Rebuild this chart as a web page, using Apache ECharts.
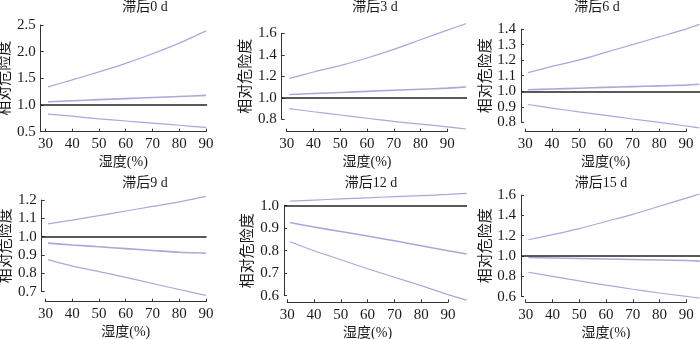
<!DOCTYPE html>
<html>
<head>
<meta charset="utf-8">
<script src="https://cdn.jsdelivr.net/npm/echarts@6/dist/echarts.min.js"></script>
<style>
html,body{margin:0;padding:0;background:#fff;}
#chart{width:700px;height:339px;}
</style>
</head>
<body>
<div id="chart"></div>
<script>
// ---------------- data ----------------
const panelTitles = ['滞后0 d', '滞后3 d', '滞后6 d', '滞后9 d', '滞后12 d', '滞后15 d'];
const xAxisName = '湿度(%)';
const yAxisName = '相对危险度';
const xTickValues = [30, 40, 50, 60, 70, 80, 90];

const yTickMin  = [0.5, 0.8, 0.8, 0.7, 0.6, 0.6];
const yTickMax  = [2.5, 1.6, 1.4, 1.2, 1.0, 1.6];
const yTickStep = [0.5, 0.2, 0.1, 0.1, 0.1, 0.2];

const humidity0 = [31, 40, 50, 60, 70, 80, 90];
const upper0 = [1.34, 1.47, 1.62, 1.78, 1.96, 2.16, 2.39];
const rr0    = [1.06, 1.08, 1.10, 1.12, 1.14, 1.16, 1.18];
const lower0 = [0.83, 0.79, 0.74, 0.70, 0.66, 0.62, 0.58];

const humidity3 = [31, 40, 50, 60, 70, 80, 90, 97];
const upper3 = [1.18, 1.24, 1.30, 1.37, 1.45, 1.54, 1.63, 1.69];
const rr3    = [1.03, 1.04, 1.05, 1.06, 1.07, 1.08, 1.09, 1.10];
const lower3 = [0.90, 0.87, 0.84, 0.81, 0.78, 0.755, 0.73, 0.71];

const humidity6 = [31, 40, 50, 60, 70, 80, 90, 95];
const upper6 = [1.12, 1.16, 1.20, 1.25, 1.30, 1.35, 1.40, 1.43];
const rr6    = [1.01, 1.015, 1.02, 1.025, 1.03, 1.035, 1.04, 1.045];
const lower6 = [0.915, 0.892, 0.868, 0.845, 0.822, 0.80, 0.777, 0.765];

const humidity9 = [31, 40, 50, 60, 70, 80, 90];
const upper9 = [1.07, 1.09, 1.115, 1.14, 1.165, 1.19, 1.22];
const rr9    = [0.965, 0.955, 0.945, 0.935, 0.925, 0.915, 0.91];
const lower9 = [0.875, 0.84, 0.81, 0.778, 0.745, 0.712, 0.68];

const humidity12 = [31, 40, 50, 60, 70, 80, 90, 97];
const upper12 = [1.02, 1.025, 1.03, 1.035, 1.04, 1.045, 1.05, 1.055];
const rr12    = [0.925, 0.905, 0.885, 0.865, 0.844, 0.822, 0.80, 0.785];
const lower12 = [0.84, 0.80, 0.76, 0.72, 0.682, 0.645, 0.605, 0.58];

const humidity15 = [31, 40, 50, 60, 70, 80, 90, 95];
const upper15 = [1.16, 1.21, 1.27, 1.34, 1.41, 1.49, 1.57, 1.61];
const rr15    = [0.985, 0.98, 0.975, 0.97, 0.965, 0.96, 0.955, 0.95];
const lower15 = [0.84, 0.80, 0.755, 0.713, 0.673, 0.636, 0.602, 0.585];

const refValue = 1.0;

// ---------------- layout (pixels) ----------------
const XS = 2.677; // px per humidity unit
const layout = [
  {x30: 45.4,  yAxisX: 40.7, right: 207.1, y1: 105,   ys: 53.35, dataY: [0.5, 2.5],  xAxisY: 131.7, L: true,  title: [145, 0],   nameGap: 23},
  {x30: 286.7, yAxisX: 281.7, right: 467,  y1: 97.8,  ys: 107.5, dataY: [0.65, 1.75], xAxisY: 131.7, L: false, title: [375, 0],   nameGap: 26},
  {x30: 525.3, yAxisX: 521,  right: 700,   y1: 91.3,  ys: 155.5, dataY: [0.7, 1.5],  xAxisY: 131.7, L: false, title: [597, 0],   nameGap: 27.5},
  {x30: 45.4,  yAxisX: 41.7, right: 206.6, y1: 236.7, ys: 183.4, dataY: [0.65, 1.25], xAxisY: 301.7, L: false, title: [145, 176], nameGap: 24},
  {x30: 287.3, yAxisX: 284,  right: 467,   y1: 205.7, ys: 225,   dataY: [0.55, 1.1], xAxisY: 302.3, L: false, title: [371, 176], nameGap: 28},
  {x30: 525.7, yAxisX: 521,  right: 700,   y1: 256,   ys: 101.6, dataY: [0.5, 1.7],  xAxisY: 302.3, L: false, title: [601, 176], nameGap: 26}
];

const panels = [
  [humidity0, upper0, rr0, lower0],
  [humidity3, upper3, rr3, lower3],
  [humidity6, upper6, rr6, lower6],
  [humidity9, upper9, rr9, lower9],
  [humidity12, upper12, rr12, lower12],
  [humidity15, upper15, rr15, lower15]
];

const FONT = "Liberation Serif, Noto Sans CJK SC";
const TXT = '#1a1a1a';
const AX = '#333';
const PURPLE = '#b0a4dc';

const grid = [], xAxis = [], yAxis = [], series = [], title = [];

function zip(xs, ys) { return xs.map((x, i) => [x, ys[i]]); }

layout.forEach((L, p) => {
  const xmin = 30 + (L.yAxisX - L.x30) / XS;
  const xmax = 30 + (L.right - L.x30) / XS;
  // data grid
  const gData = grid.length;
  grid.push({left: L.yAxisX, top: L.y1 - (L.dataY[1] - 1) * L.ys,
             width: L.right - L.yAxisX, height: (L.dataY[1] - L.dataY[0]) * L.ys,
             containLabel: false, outerBoundsMode: 'none'});
  xAxis.push({gridIndex: gData, type: 'value', min: xmin, max: xmax, show: false});
  yAxis.push({gridIndex: gData, type: 'value', min: L.dataY[0], max: L.dataY[1], show: false});

  // x-axis grid
  const gx = grid.length;
  const axStart = L.L ? L.yAxisX : L.x30;
  const axStartVal = L.L ? xmin : 30;
  const axEnd = L.x30 + 60 * XS;
  grid.push({left: axStart, top: L.xAxisY - 10, width: axEnd - axStart, height: 10,
             containLabel: false, outerBoundsMode: 'none'});
  xAxis.push({gridIndex: gx, type: 'value', position: 'bottom', min: axStartVal, max: 90,
    axisLine: {show: true, lineStyle: {color: AX, width: 1}},
    axisTick: {show: true, inside: true, length: 3, lineStyle: {color: AX}, customValues: xTickValues},
    axisLabel: {show: true, customValues: xTickValues, color: TXT, fontFamily: FONT, fontSize: 15, margin: 5},
    splitLine: {show: false},
    name: xAxisName, nameLocation: 'middle', nameGap: 24,
    nameTextStyle: {color: TXT, fontFamily: FONT, fontSize: 14}});
  yAxis.push({gridIndex: gx, type: 'value', min: 0, max: 1, show: false});

  // y-axis grid
  const gy = grid.length;
  const tTop = L.y1 - (yTickMax[p] - 1) * L.ys;
  const tBot = L.y1 - (yTickMin[p] - 1) * L.ys;
  grid.push({left: L.yAxisX, top: tTop, width: 10, height: tBot - tTop,
             containLabel: false, outerBoundsMode: 'none'});
  xAxis.push({gridIndex: gy, type: 'value', min: 0, max: 1, show: false});
  yAxis.push({gridIndex: gy, type: 'value', position: 'left',
    min: yTickMin[p], max: yTickMax[p], interval: yTickStep[p],
    axisLine: {show: true, lineStyle: {color: AX, width: 1}},
    axisTick: {show: true, inside: true, length: 3, lineStyle: {color: AX}},
    axisLabel: {color: TXT, fontFamily: FONT, fontSize: 15, margin: 5,
                formatter: v => v.toFixed(1)},
    splitLine: {show: false},
    name: yAxisName, nameLocation: 'middle', nameGap: L.nameGap,
    nameTextStyle: {color: TXT, fontFamily: FONT, fontSize: 15}});

  const [hx, up, rr, lo] = panels[p];
  const base = {type: 'line', xAxisIndex: gData, yAxisIndex: gData, showSymbol: false,
                smooth: 0.2, silent: true, animation: false};
  series.push(Object.assign({}, base, {data: zip(hx, up), lineStyle: {color: PURPLE, width: 1.2}}));
  series.push(Object.assign({}, base, {data: zip(hx, lo), lineStyle: {color: PURPLE, width: 1.2}}));
  series.push(Object.assign({}, base, {data: zip(hx, rr), lineStyle: {color: PURPLE, width: 1.6},
    markLine: {silent: true, symbol: 'none', label: {show: false}, animation: false,
               lineStyle: {color: '#222', width: 1.5, type: 'solid'},
               data: [{yAxis: refValue}]}}));

  title.push({text: panelTitles[p], left: L.title[0], top: L.title[1], textAlign: 'center', padding: 0,
              textStyle: {fontFamily: FONT, fontSize: 14, fontWeight: 'normal', color: TXT}});
});

const chart = echarts.init(document.getElementById('chart'), null, {renderer: 'canvas'});
chart.setOption({animation: false, backgroundColor: '#fff', title, grid, xAxis, yAxis, series});
</script>
</body>
</html>
